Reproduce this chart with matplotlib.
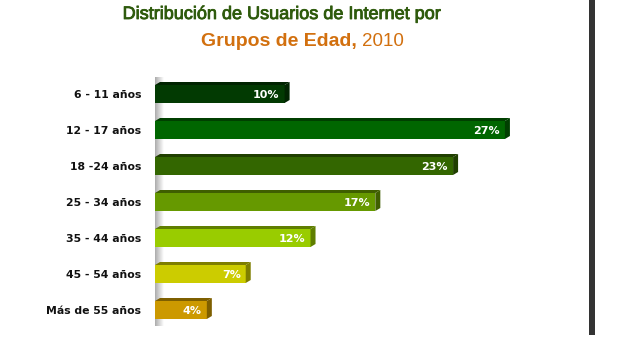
#!/usr/bin/env python3
'''Horizontal 3D-style bar chart of internet users by age group, 2010.'''

import numpy as np
import matplotlib.pyplot as plt
import matplotlib.patheffects as pe
from matplotlib.patches import Polygon
from matplotlib.colors import to_rgb

age_groups = ['6 - 11 años', '12 - 17 años', '18 -24 años', '25 - 34 años',
              '35 - 44 años', '45 - 54 años', 'Más de 55 años']
shares = [10, 27, 23, 17, 12, 7, 4]
bar_colors = ['#023a02', '#006600', '#336600', '#669900',
              '#99cc00', '#cccc00', '#cc9900']

W, H = 639, 342
fig = plt.figure(figsize=(W / 100, H / 100), dpi=100)
fig.patch.set_facecolor('white')

# axes placed in pixel terms: x=0 at 155px, ~12.96 px per percent
left_px, right_px = 155, 155 + 30 * 12.96
top_px, bot_px = 76, 328
ax = fig.add_axes([left_px / W, 1 - bot_px / H,
                   (right_px - left_px) / W, (bot_px - top_px) / H])
ax.set_xlim(0, 30)
ax.set_ylim(6.5, -0.5)
ax.axis('off')

px_x = 30 / (right_px - left_px)
px_y = 7 / (bot_px - top_px)

# shaded wall behind the bars
grad = np.linspace(0.6, 1.0, 64).reshape(1, -1)
ax.imshow(grad, cmap='gray', vmin=0, vmax=1, aspect='auto',
          extent=[-2 * px_x, 9 * px_x, 6.45, -0.45], zorder=0)

bar_h = 18 * px_y
dx, dy = 5 * px_x, 3 * px_y
y = np.arange(len(age_groups))
ax.barh(y, shares, height=bar_h, color=bar_colors, zorder=2)

for yi, v, c in zip(y, shares, bar_colors):
    dark = tuple(ch * 0.62 for ch in to_rgb(c))
    top = yi - bar_h / 2
    bot = yi + bar_h / 2
    # top face
    ax.add_patch(Polygon([(0, top), (dx, top - dy), (v + dx, top - dy), (v, top)],
                         closed=True, color=dark, lw=0, zorder=2))
    # side face
    ax.add_patch(Polygon([(v, top), (v + dx, top - dy), (v + dx, bot - dy), (v, bot)],
                         closed=True, color=dark, lw=0, zorder=2))
    ax.text(v - 5 * px_x, yi + 0.5 * px_y, f'{v}%', ha='right', va='center',
            color='white', fontsize=8, fontweight='bold',
            family='DejaVu Sans', zorder=3)
    ax.text(-14 * px_x, yi + 1 * px_y, age_groups[yi], ha='right', va='center',
            color='#111111', fontsize=7.8, fontweight='bold',
            family='DejaVu Sans', clip_on=False)

# titles
heavy = [pe.withStroke(linewidth=0.6, foreground='#2e5a0c')]
fig.text(281.5 / W, 1 - 19 / H, 'Distribución de Usuarios de Internet por',
         ha='center', va='baseline', color='#2e5a0c', fontsize=13,
         family='Liberation Sans', path_effects=heavy)
fig.text(357 / W, 1 - 46 / H, 'Grupos de Edad,', ha='right', va='baseline',
         color='#d2700f', fontsize=14, fontweight='bold', family='Liberation Sans')
fig.text(362 / W, 1 - 46 / H, '2010', ha='left', va='baseline',
         color='#d2700f', fontsize=13.5, family='Liberation Sans')

# dark frame edge at the right
fig.add_artist(plt.Rectangle((589 / W, 1 - 335 / H), 6 / W, 335 / H,
                             transform=fig.transFigure, color='#333333', lw=0))

fig.savefig('out.png', dpi=100, facecolor='white')
